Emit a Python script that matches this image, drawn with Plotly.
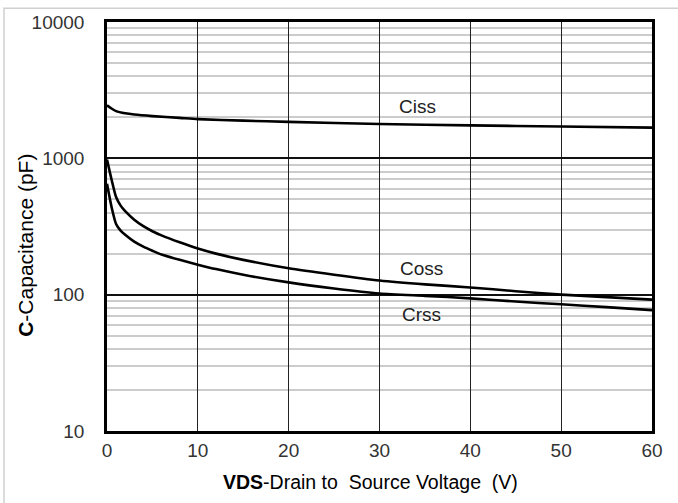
import math
import plotly.graph_objects as go

# Data
ciss_x = [0, 0.5, 1, 2, 3, 5, 8, 10, 15, 20, 30, 40, 50, 60]
ciss_y = [2450, 2320, 2220, 2140, 2095, 2040, 1980, 1940, 1890, 1850, 1785, 1745, 1710, 1680]

coss_x = [0, 0.5, 1, 1.5, 2, 3, 4, 5, 6, 8, 10, 12, 15, 20, 25, 30, 35, 40, 45, 50, 55, 60]
coss_y = [980, 700, 520, 450, 410, 355, 318, 292, 272, 242, 218, 200, 180, 156, 140, 127, 119, 113, 106, 100, 96, 92]

crss_x = [0, 0.5, 1, 1.5, 2, 3, 4, 5, 6, 8, 10, 12, 15, 20, 25, 30, 35, 40, 45, 50, 55, 60]
crss_y = [650, 440, 330, 295, 275, 245, 225, 210, 197, 180, 166, 154, 140, 123, 111, 102, 98, 94, 89, 85, 81, 77]

curve_labels = ["Ciss", "Coss", "Crss"]
label_x = [34.2, 34.6, 34.6]
label_y = [2380, 155, 72]

x_ticks = [0, 10, 20, 30, 40, 50, 60]
y_ticks = [10, 100, 1000, 10000]
y_minor = [m * d for d in (10, 100, 1000) for m in range(2, 10)]

FONT = "Liberation Sans, Arial, sans-serif"

# plot-area pixel geometry
L, R, T, B = 107, 652, 18, 431
W, H = 678, 503
PW, PH = R - L, B - T

fig = go.Figure()
for xs, ys in ((ciss_x, ciss_y), (coss_x, coss_y), (crss_x, crss_y)):
    fig.add_trace(go.Scatter(x=xs, y=ys, mode="lines",
                             line=dict(color="black", width=2.6, shape="spline", smoothing=0.6),
                             showlegend=False, hoverinfo="skip"))

for t, lx, ly in zip(curve_labels, label_x, label_y):
    fig.add_annotation(x=lx, y=math.log10(ly), yref="y", xref="x", text=t, showarrow=False,
                       font=dict(family=FONT, size=19, color="#222"))

# axis titles
fig.add_annotation(xref="paper", yref="paper", x=(370 - L) / PW, y=(B - 483) / PH,
                   text="<b>VDS</b>-Drain to&nbsp; Source Voltage&nbsp; (V)", showarrow=False,
                   font=dict(family=FONT, size=19.5, color="black"), xanchor="center", yanchor="middle")
fig.add_annotation(xref="paper", yref="paper", x=(26 - L) / PW, y=(B - 244) / PH,
                   text="<b>C</b>-Capacitance (pF)", showarrow=False, textangle=-90,
                   font=dict(family=FONT, size=21, color="black"), xanchor="center", yanchor="middle")

# outer light frame
fig.add_shape(type="rect", xref="paper", yref="paper",
              x0=(4 - L) / PW, x1=(720 - L) / PW, y0=(B - 540) / PH, y1=(B - 4) / PH,
              line=dict(color="#d0d0d0", width=1.5), layer="below")

fig.update_xaxes(range=[0, 60], tickvals=x_ticks, showgrid=True, gridcolor="#222", gridwidth=1,
                 showline=True, mirror=True, linecolor="black", linewidth=2.5, zeroline=False,
                 ticks="", ticklabelstandoff=0,
                 tickfont=dict(family=FONT, size=19, color="#333"))
fig.update_yaxes(type="log", range=[1, 4], tickvals=y_ticks, ticktext=[str(v) for v in y_ticks],
                 showgrid=True, gridcolor="#111", gridwidth=2,
                 minor=dict(tickvals=y_minor, showgrid=True, gridcolor="#cccccc", gridwidth=1.5, ticks=""),
                 showline=True, mirror=True, linecolor="black", linewidth=2.5, zeroline=False,
                 ticks="", ticklabelstandoff=16,
                 tickfont=dict(family=FONT, size=19, color="#333"))

fig.update_layout(width=W, height=H, margin=dict(l=L, r=W - R, t=T, b=H - B),
                  paper_bgcolor="white", plot_bgcolor="white")

fig.write_html("out.html", config={"displayModeBar": False},
               post_script="document.body.style.margin='0px';document.body.style.overflow='hidden';")
